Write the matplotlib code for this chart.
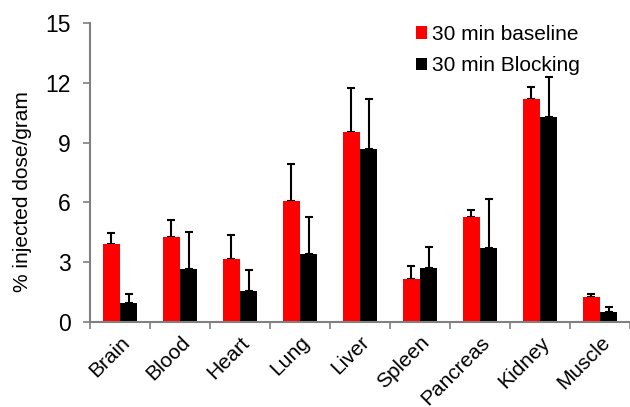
import matplotlib
matplotlib.use('Agg')
import matplotlib.pyplot as plt
import matplotlib.transforms as mtransforms
import numpy as np

organs = ['Brain', 'Blood', 'Heart', 'Lung', 'Liver', 'Spleen', 'Pancreas', 'Kidney', 'Muscle']
baseline = [3.91, 4.24, 3.14, 6.07, 9.56, 2.13, 5.25, 11.19, 1.23]
baseline_err = [0.54, 0.88, 1.21, 1.85, 2.18, 0.67, 0.37, 0.62, 0.15]
blocking = [0.92, 2.65, 1.56, 3.41, 8.69, 2.72, 3.69, 10.31, 0.49]
blocking_err = [0.46, 1.88, 1.04, 1.86, 2.53, 1.05, 2.47, 2.01, 0.26]
yticks = [0, 3, 6, 9, 12, 15]

plt.rcParams['font.family'] = ['Liberation Sans', 'DejaVu Sans']

fig = plt.figure(figsize=(6.3, 4.07), dpi=100)
ax = fig.add_axes([0.1429, 0.2096, 0.8571, 0.7327])

x = np.arange(len(organs))
w = 0.29
ekw = dict(elinewidth=1.5, capthick=1.5, ecolor='black')
ax.bar(x - w / 2, baseline, w, color='#ff0000', label='30 min baseline', zorder=2)
ax.errorbar(x - w / 2, baseline, yerr=[np.zeros(len(x)), baseline_err], fmt='none',
            capsize=3, **ekw, zorder=1)
ax.bar(x + w / 2, blocking, w, color='black', label='30 min Blocking', zorder=2)
ax.errorbar(x + w / 2, blocking, yerr=[np.zeros(len(x)), blocking_err], fmt='none',
            capsize=3, **ekw, zorder=1)

ax.set_xlim(-0.5, len(organs) - 0.5)
ax.set_ylim(0, 15)
ax.set_yticks(yticks)
ax.set_yticklabels([str(t) for t in yticks], fontsize=16.5)
ax.set_xticks(x)
ax.set_xticklabels(organs, fontsize=15, rotation=45, ha='right', va='top',
                   rotation_mode='anchor')
# nudge the slanted labels a little to the left, like the original
shift = mtransforms.ScaledTranslation(-7 / 100, 0, fig.dpi_scale_trans)
for lab in ax.get_xticklabels():
    lab.set_transform(lab.get_transform() + shift)
ax.set_xticks(np.arange(len(organs) + 1) - 0.5, minor=True)
ax.tick_params(axis='x', which='major', length=0, pad=8)
ax.tick_params(axis='x', which='minor', length=5, color='#808080', width=1.2)
ax.tick_params(axis='y', length=5, color='#808080', width=1.2, pad=9)

for side in ('top', 'right'):
    ax.spines[side].set_visible(False)
for side in ('left', 'bottom'):
    ax.spines[side].set_color('#808080')
    ax.spines[side].set_linewidth(1.5)
ax.spines['bottom'].set_zorder(3)

ax.set_ylabel('% injected dose/gram', fontsize=15)
ax.yaxis.set_label_coords(-0.107, 0.438)

ax.legend(loc='upper left', bbox_to_anchor=(0.630, 0.985), bbox_transform=fig.transFigure,
          frameon=False, fontsize=15, handlelength=0.55, handleheight=0.55,
          handletextpad=0.25, labelspacing=0.6)

fig.savefig('out.png', dpi=100)
